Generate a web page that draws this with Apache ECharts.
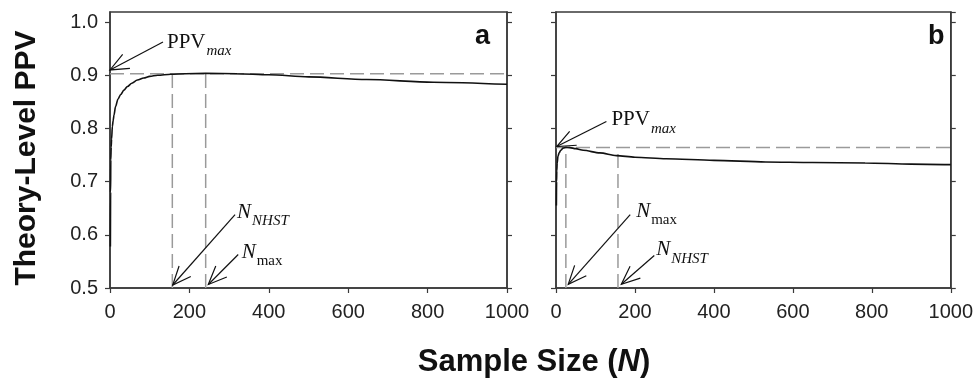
<!DOCTYPE html>
<html>
<head>
<meta charset="utf-8">
<script src="https://cdn.jsdelivr.net/npm/echarts@6/dist/echarts.min.js"></script>
<style>
  html, body { margin: 0; padding: 0; background: #fff; }
  #chart { width: 976px; height: 379px; }
</style>
</head>
<body>
<div id="chart"></div>
<script>
// panel a curve
var nA = [1, 1.5, 2, 3, 4, 6, 8, 10, 14, 20, 27, 35, 44, 55, 69, 85, 100, 120, 153, 190, 241, 320, 400, 500, 647, 814, 1000];
var ppvA = [0.578, 0.68, 0.741, 0.765, 0.780, 0.804, 0.815, 0.825, 0.841, 0.855, 0.864, 0.872, 0.879, 0.885, 0.891, 0.895, 0.898, 0.900, 0.902, 0.903, 0.9035, 0.903, 0.901, 0.897, 0.892, 0.887, 0.883];
// panel b curve
var nB = [1, 1.5, 2, 3, 5, 8, 12, 18, 25, 35, 50, 69, 111, 153, 200, 279, 400, 531, 650, 783, 900, 1000];
var ppvB = [0.655, 0.70, 0.72, 0.735, 0.748, 0.754, 0.759, 0.763, 0.7645, 0.764, 0.762, 0.759, 0.754, 0.749, 0.746, 0.743, 0.740, 0.737, 0.736, 0.735, 0.733, 0.732];

// reference values
var ppvMaxA = 0.903, nNhstA = 157, nMaxA = 241;
var ppvMaxB = 0.764, nMaxB = 25, nNhstB = 157;

// annotations: label text, subscript, anchor of text, arrow tail, arrow head (data units)
var annA = [
  { main: 'PPV', sub: 'max', mainItalic: false, subItalic: true, text: [143.6, 0.9625], tail: [133.5, 0.9625], head: [0, 0.910] },
  { main: 'N', sub: 'NHST', mainItalic: true, subItalic: true, text: [320, 0.6426], tail: [315, 0.638], head: [158, 0.5056] },
  { main: 'N', sub: 'max', mainItalic: true, subItalic: false, text: [331.7, 0.5675], tail: [323, 0.563], head: [247.6, 0.5066] }
];
var annB = [
  { main: 'PPV', sub: 'max', mainItalic: false, subItalic: true, text: [140.3, 0.816], tail: [127.7, 0.813], head: [1.8, 0.766] },
  { main: 'N', sub: 'max', mainItalic: true, subItalic: false, text: [203, 0.644], tail: [188, 0.638], head: [31, 0.507] },
  { main: 'N', sub: 'NHST', mainItalic: true, subItalic: true, text: [253.7, 0.572], tail: [249, 0.561], head: [165.5, 0.507] }
];

var AXIS = '#3a3a3a';
var SERIF = '"Liberation Serif", "Times New Roman", serif';
var SANS = '"Liberation Sans", Arial, sans-serif';

var measureCtx = document.createElement('canvas').getContext('2d');
function measure(txt, font) {
  measureCtx.font = font;
  return measureCtx.measureText(txt).width;
}

function zip(xs, ys) {
  return xs.map(function (x, i) { return [x, ys[i]]; });
}

function makeRender(list) {
  return function (params, api) {
    var a = list[params.dataIndex];
    var t = api.coord([api.value(0), api.value(1)]);
    var h = api.coord([api.value(2), api.value(3)]);
    var p = api.coord([api.value(4), api.value(5)]);
    var ang = Math.atan2(t[1] - h[1], t[0] - h[0]);
    var L = 20, s = 23 * Math.PI / 180;
    var w1 = [h[0] + L * Math.cos(ang + s), h[1] + L * Math.sin(ang + s)];
    var w2 = [h[0] + L * Math.cos(ang - s), h[1] + L * Math.sin(ang - s)];
    var mainFont = (a.mainItalic ? 'italic ' : '') + '21px ' + SERIF;
    var subFont = (a.subItalic ? 'italic ' : '') + '15px ' + SERIF;
    var mw = measure(a.main, mainFont);
    var ln = { stroke: '#111', lineWidth: 1.2, fill: 'none' };
    return {
      type: 'group',
      children: [
        { type: 'polyline', shape: { points: [t, h] }, style: ln },
        { type: 'polyline', shape: { points: [w1, h, w2] }, style: ln },
        { type: 'text', style: { text: a.main, x: p[0], y: p[1], font: mainFont, fill: '#111', align: 'left', verticalAlign: 'middle' } },
        { type: 'text', style: { text: a.sub, x: p[0] + mw + 1, y: p[1] + 9, font: subFont, fill: '#111', align: 'left', verticalAlign: 'middle' } }
      ]
    };
  };
}

function annData(list) {
  return list.map(function (a) { return a.tail.concat(a.head, a.text); });
}

function dashSeries(idx, from, to) {
  return {
    type: 'line', xAxisIndex: idx, yAxisIndex: idx, data: [from, to],
    symbol: 'none', silent: true, z: 1,
    lineStyle: { color: '#9a9a9a', width: 1.5, type: [14, 6] }
  };
}

function curveSeries(idx, xs, ys) {
  return {
    type: 'line', xAxisIndex: idx, yAxisIndex: idx, data: zip(xs, ys),
    symbol: 'none', smooth: 0.3, smoothMonotone: 'x', z: 3,
    lineStyle: { color: '#111', width: 1.6 }
  };
}

var grids = [
  { left: 110, top: 12, width: 397, height: 276, show: true, borderColor: AXIS, borderWidth: 1.5 },
  { left: 556, top: 12, width: 397, height: 276, show: true, borderColor: AXIS, borderWidth: 1.5 }
];

function xAxis(i) {
  return {
    type: 'value', gridIndex: i, min: 0, max: 1000, interval: 200,
    splitLine: { show: false },
    axisLine: { show: true, lineStyle: { color: AXIS, width: 1.5 } },
    axisTick: { show: true, length: 5, lineStyle: { color: AXIS, width: 1.2 } },
    axisLabel: {
      color: '#222', fontSize: 20, fontFamily: SANS, margin: 14,
      formatter: function (v) { return String(v); }
    }
  };
}

function yAxis(i, pos, labels) {
  return {
    type: 'value', gridIndex: i, position: pos, min: 0.5, max: 1.019, interval: 0.1,
    splitLine: { show: false },
    axisLine: { show: true, lineStyle: { color: AXIS, width: 1.5 } },
    axisTick: { show: true, length: 5, lineStyle: { color: AXIS, width: 1.2 } },
    axisLabel: {
      show: labels, color: '#222', fontSize: 20, fontFamily: SANS, margin: 12, showMaxLabel: false,
      formatter: function (v) { return v.toFixed(1); }
    }
  };
}

var chart = echarts.init(document.getElementById('chart'), null, { renderer: 'canvas' });
chart.setOption({
  animation: false,
  backgroundColor: '#fff',
  grid: grids,
  xAxis: [xAxis(0), xAxis(1)],
  yAxis: [yAxis(0, 'left', true), yAxis(1, 'left', false), yAxis(0, 'right', false), yAxis(1, 'right', false)],
  title: [
    { text: 'a', left: 470, top: 18, textStyle: { fontSize: 27, fontWeight: 'bold', fontFamily: SANS, color: '#111' } },
    { text: 'b', left: 923, top: 18, textStyle: { fontSize: 27, fontWeight: 'bold', fontFamily: SANS, color: '#111' } }
  ],
  graphic: [
    {
      type: 'text', x: 27, y: 158, rotation: Math.PI / 2,
      style: { text: 'Theory-Level PPV', font: 'bold 30px ' + SANS, fill: '#111', align: 'center', verticalAlign: 'middle' }
    },
    {
      type: 'text', x: 534, y: 362,
      style: {
        text: '{t|Sample Size (}{i|N}{t|)}', align: 'center', verticalAlign: 'middle',
        rich: {
          t: { font: 'bold 31px ' + SANS, fill: '#111' },
          i: { font: 'italic bold 31px ' + SANS, fill: '#111' }
        }
      }
    }
  ],
  series: [
    dashSeries(0, [0, ppvMaxA], [1000, ppvMaxA]),
    dashSeries(0, [nNhstA, 0.5], [nNhstA, ppvMaxA]),
    dashSeries(0, [nMaxA, 0.5], [nMaxA, ppvMaxA]),
    dashSeries(1, [0, ppvMaxB], [1000, ppvMaxB]),
    dashSeries(1, [nMaxB, 0.5], [nMaxB, ppvMaxB]),
    dashSeries(1, [nNhstB, 0.5], [nNhstB, ppvMaxB]),
    curveSeries(0, nA, ppvA),
    curveSeries(1, nB, ppvB),
    { type: 'custom', xAxisIndex: 0, yAxisIndex: 0, data: annData(annA), renderItem: makeRender(annA), clip: false, silent: true, z: 4 },
    { type: 'custom', xAxisIndex: 1, yAxisIndex: 1, data: annData(annB), renderItem: makeRender(annB), clip: false, silent: true, z: 4 }
  ]
});
</script>
</body>
</html>
